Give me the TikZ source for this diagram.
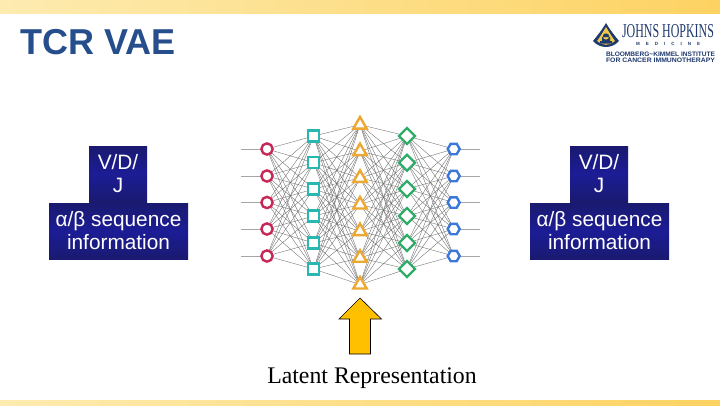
\documentclass[tikz,border=0pt]{standalone}
\usepackage{fontspec}
\setmainfont{Liberation Sans}
\newfontfamily\serifface{Liberation Serif}
\usetikzlibrary{shapes.geometric}
\pgfdeclarelayer{wires}
\pgfsetlayers{wires,main}
\definecolor{titleblue}{HTML}{264D8C}
\definecolor{barlight}{HTML}{FDEBB0}
\definecolor{bardark}{HTML}{FDD262}
\definecolor{boxtop}{HTML}{1A1A70}
\definecolor{boxmid}{HTML}{1C1C96}
\definecolor{logonavy}{HTML}{1F3A6E}
\definecolor{logogold}{HTML}{F0C846}
\definecolor{ncirc}{HTML}{C82855}
\definecolor{nsq}{HTML}{28B8B2}
\definecolor{ntri}{HTML}{ECA832}
\definecolor{ndia}{HTML}{2EAC68}
\definecolor{nhex}{HTML}{3C78D8}
\definecolor{arrowfill}{HTML}{FFC000}
\tikzset{
  netnode/.style={fill=white,line width=2.4pt,inner sep=0pt,outer sep=0pt},
  circ/.style={netnode,circle,draw=ncirc,minimum size=11.3pt},
  sq/.style={netnode,rectangle,draw=nsq,minimum size=11pt},
  tri/.style={netnode,regular polygon,regular polygon sides=3,draw=ntri,minimum size=15.4pt},
  dia/.style={netnode,diamond,draw=ndia,minimum size=16pt},
  hex/.style={netnode,regular polygon,regular polygon sides=6,draw=nhex,minimum size=12pt},
  netwire/.style={draw=black!58,line width=0.35pt},
  stub/.style={draw=black!35,line width=0.6pt},
  bluebox/.style={draw=none,inner sep=0pt,text=white,align=center,font=\fontsize{20.8}{23}\selectfont,
    top color=boxtop,bottom color=boxtop,middle color=boxmid},
  bar/.style={left color=barlight,right color=bardark,draw=none},
  arrowshape/.style={fill=arrowfill,draw=black,line width=0.6pt,line join=miter},
}
\begin{document}
\begin{tikzpicture}[x=1pt,y=-1pt]
\useasboundingbox (0,0) rectangle (720,405);
\begin{pgfonlayer}{wires}
\fill[white] (0,0) rectangle (720,405);
\end{pgfonlayer}
% bars
\path[bar] (0,0) rectangle (720,13);
\path[bar] (0,400) rectangle (720,405);
% title
\node[anchor=west,inner sep=0pt,text=titleblue,font=\fontsize{36}{36}\selectfont\bfseries] (title) at (20,42) {TCR VAE};
% logo
\path[fill=logonavy] (606,23) .. controls (610,30) and (615,36) .. (619,41) .. controls (612,49) and (600,49) .. (593,41) .. controls (597,36) and (602,30) .. (606,23) -- cycle;
\path[fill=logogold] (606,27) .. controls (609,32) and (612,37) .. (615,41) .. controls (610,46) and (602,46) .. (597,41) .. controls (600,37) and (603,32) .. (606,27) -- cycle;
\path[fill=logonavy] (600,41) rectangle (612,43.5) (602,41) rectangle (610,37) (606,36.5) circle (3.2pt);
\node[inner sep=0pt,text=logonavy] (logoa) at (668,31.5) {\serifface\resizebox{92pt}{13pt}{JOHNS HOPKINS}};
\node[inner sep=0pt,text=logonavy,font=\fontsize{4.5}{5}\selectfont\bfseries] (logob) at (668,44) {M\hspace{6pt}E\hspace{6pt}D\hspace{6pt}I\hspace{6pt}C\hspace{6pt}I\hspace{6pt}N\hspace{6pt}E};
\node[inner sep=0pt,text=logonavy,font=\bfseries] (logoc) at (660.5,54) {\resizebox{109pt}{4.5pt}{BLOOMBERG\textasciitilde KIMMEL INSTITUTE}};
\node[inner sep=0pt,text=logonavy,font=\bfseries] (logod) at (660.5,60) {\resizebox{109pt}{4.5pt}{FOR CANCER IMMUNOTHERAPY}};
% network nodes
\foreach \y [count=\i] in {149,176,202.5,229,256}{
  \coordinate (inL\i) at (241,\y);
  \coordinate (outR\i) at (480,\y);
  \node[circ] (a\i) at (267,\y) {};
  \node[hex] (e\i) at (453.7,\y) {};
}
\foreach \y [count=\i] in {136,162.7,189,216,243,269}{
  \node[sq] (b\i) at (313.7,\y) {};
  \node[dia] (d\i) at (407,\y) {};
}
\foreach \y [count=\i] in {124.7,151.3,178,204.6,231.3,257.9,284.6}{
  \node[tri] (c\i) at (360,\y) {};
}
% connectors
\begin{pgfonlayer}{wires}
\foreach \i in {1,...,5}{
  \draw[stub] (inL\i) -- (a\i.center);
  \draw[stub] (e\i.center) -- (outR\i);
  \foreach \j in {1,...,6}{
    \draw[netwire] (a\i.center) -- (b\j.center);
    \draw[netwire] (d\j.center) -- (e\i.center);
  }
}
\foreach \i in {1,...,6}{
  \foreach \j in {1,...,7}{
    \draw[netwire] (b\i.center) -- (c\j.center);
    \draw[netwire] (c\j.center) -- (d\i.center);
  }
}
\end{pgfonlayer}
% boxes
\node[bluebox,minimum width=58pt,minimum height=56pt] (vl) at (118,174) {V/D/\\J};
\node[bluebox,minimum width=139pt,minimum height=56pt] (sl) at (118.5,231) {α/β sequence\\information};
\node[bluebox,minimum width=58pt,minimum height=56pt] (vr) at (599,174) {V/D/\\J};
\node[bluebox,minimum width=139pt,minimum height=56pt] (sr) at (599.5,231) {α/β sequence\\information};
% arrow
\path[arrowshape] (360,298) -- (381.5,319) -- (370.5,319) -- (370.5,354) -- (349.5,354) -- (349.5,319) -- (339,319) -- cycle;
\node[inner sep=0pt,font=\fontsize{23.8}{26}\selectfont\serifface] (latent) at (372,378) {Latent Representation};
\end{tikzpicture}
\end{document}
